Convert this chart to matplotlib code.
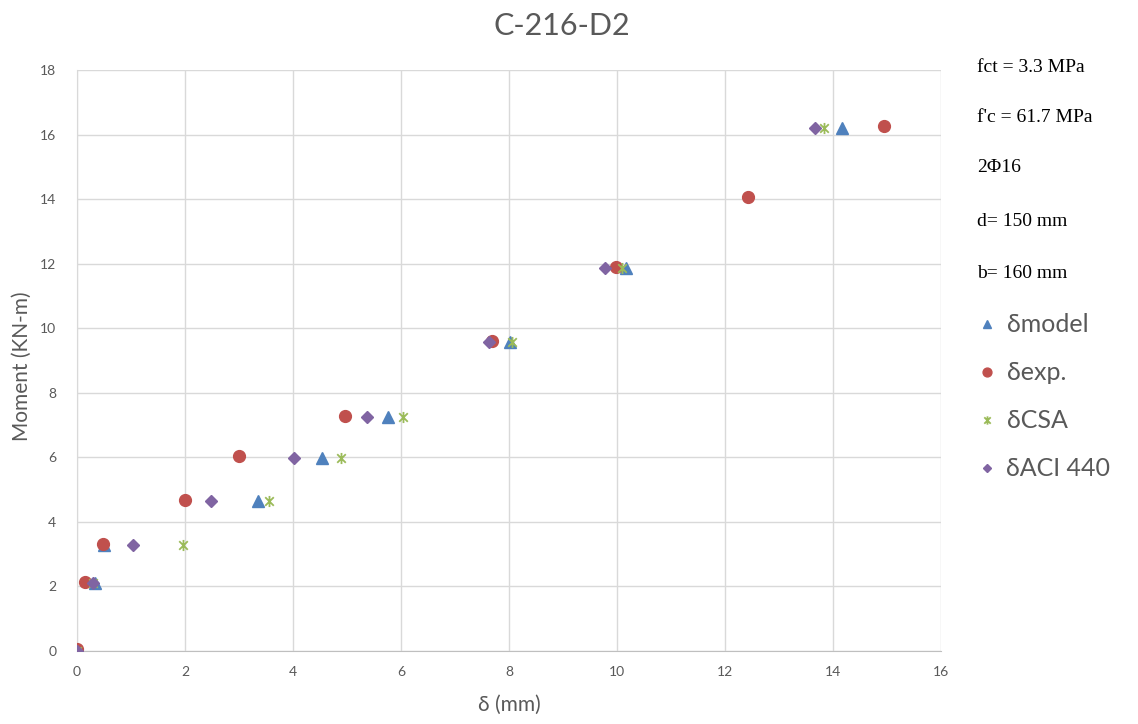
import matplotlib
matplotlib.use("Agg")
import matplotlib.pyplot as plt
from matplotlib.path import Path

# Deflection (mm) and moment (kN-m) for each method
moment = [0.0, 2.1, 3.28, 4.64, 5.98, 7.24, 9.56, 11.86, 16.2]

d_model = [0.0, 0.33, 0.5, 3.36, 4.53, 5.76, 8.02, 10.17, 14.17]
m_model = moment

d_exp = [0.0, 0.15, 0.48, 2.0, 3.0, 4.96, 7.69, 9.98, 12.43, 14.95]
m_exp = [0.05, 2.13, 3.33, 4.68, 6.03, 7.29, 9.6, 11.9, 14.07, 16.27]

d_csa = [0.0, 0.3, 1.97, 3.56, 4.89, 6.04, 8.06, 10.09, 13.83]
m_csa = moment

d_aci = [0.0, 0.3, 1.04, 2.49, 4.02, 5.37, 7.63, 9.77, 13.66]
m_aci = moment

x_ticks = [0, 2, 4, 6, 8, 10, 12, 14, 16]
y_ticks = [0, 2, 4, 6, 8, 10, 12, 14, 16, 18]

specs = ["fct = 3.3 MPa", "f'c = 61.7 MPa", "2\u03a616", "d= 150 mm", "b= 160 mm"]

c_blue = "#4F81BD"
c_red = "#C0504D"
c_green = "#9BBB59"
c_purple = "#8064A2"
grey_txt = "#595959"

# Excel-style star: an X with a vertical stroke through it
star = Path([(-1, -1), (1, 1), (-1, 1), (1, -1), (0, -1.3), (0, 1.3)],
            [Path.MOVETO, Path.LINETO, Path.MOVETO, Path.LINETO, Path.MOVETO, Path.LINETO])

W, H = 1138, 724
fig = plt.figure(figsize=(W / 100, H / 100), dpi=100)
ax = fig.add_axes([77 / W, 1 - 651 / H, (941 - 77) / W, (651 - 70) / H])

ax.plot(d_model, m_model, linestyle="none", marker="^", ms=8.5, color=c_blue,
        mec=c_blue, label="\u03b4model", zorder=3)
ax.plot(d_exp, m_exp, linestyle="none", marker="o", ms=8.5, color=c_red,
        mec=c_red, label="\u03b4exp.", zorder=3)
ax.plot(d_csa, m_csa, linestyle="none", marker=star, ms=8, color=c_green,
        mew=1.3, label="\u03b4CSA", zorder=3)
ax.plot(d_aci, m_aci, linestyle="none", marker="D", ms=6, color=c_purple,
        mec=c_purple, label="\u03b4ACI 440", zorder=3)

ax.set_xlim(0, 16)
ax.set_ylim(0, 18)
ax.set_xticks(x_ticks)
ax.set_yticks(y_ticks)
ax.grid(True, color="#D9D9D9", linewidth=1)
ax.set_axisbelow(True)
for side in ["top", "right"]:
    ax.spines[side].set_visible(False)
ax.spines["left"].set_color("#D9D9D9")
ax.spines["bottom"].set_color("#BFBFBF")
ax.tick_params(length=0, labelsize=10, labelcolor=grey_txt)
ax.tick_params(axis="y", pad=15)
ax.tick_params(axis="x", pad=11)
for lbl in ax.get_xticklabels() + ax.get_yticklabels():
    lbl.set_family("Lato")

ax.set_xlabel("\u03b4 (mm)", fontsize=15, color=grey_txt, family="Lato", va="center")
ax.set_ylabel("Moment (KN-m)", fontsize=15, color=grey_txt, family="Lato", va="center")
ax.xaxis.set_label_coords(0.5, (651 - 705) / (651 - 70))
ax.yaxis.set_label_coords((22 - 77) / (941 - 77), 0.49)

fig.text(562 / W, 1 - 26 / H, "C-216-D2", ha="center", va="center",
         fontsize=22, color=grey_txt, family="Lato")

spec_y = [68, 118, 167, 221, 273]
for s, yy in zip(specs, spec_y):
    fig.text(977 / W, 1 - yy / H, s, ha="left", va="center",
             fontsize=14, color="black", family="Liberation Serif")

leg = ax.legend(loc="upper left", bbox_to_anchor=(964 / W, 1 - 301 / H),
                bbox_transform=fig.transFigure, frameon=False, fontsize=18,
                handlelength=0.8, handletextpad=0.4, labelspacing=1.0,
                markerscale=0.75, borderpad=0)
for t in leg.get_texts():
    t.set_color(grey_txt)
    t.set_family("Lato")

fig.savefig("out.png", dpi=100, facecolor="white")
